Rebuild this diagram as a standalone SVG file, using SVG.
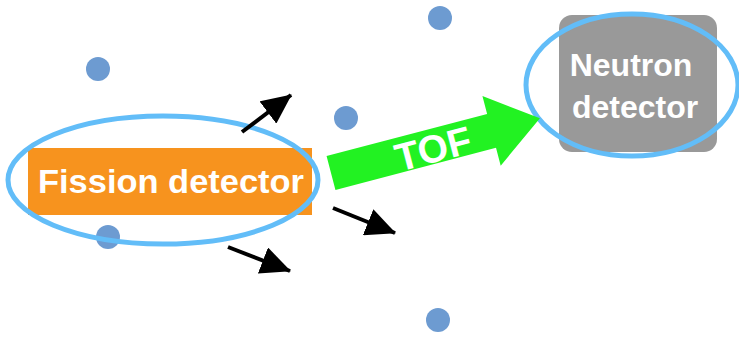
<svg xmlns="http://www.w3.org/2000/svg" width="739" height="340" viewBox="0 0 739 340">
<defs>
<style>
.lbl{font-family:"Liberation Sans",Arial,sans-serif;font-weight:bold;fill:#ffffff;text-anchor:middle}
.dot{fill:#6d9bd1}
.ring{fill:none;stroke:#62bdf8;stroke-width:5}
.ray{stroke:#000;stroke-width:4;fill:none;marker-end:url(#ah)}
</style>
<marker id="ah" markerUnits="userSpaceOnUse" markerWidth="30" markerHeight="28" viewBox="0 0 30 28" refX="29" refY="14" orient="auto">
<path d="M0,0 L30,14 L0,28 z" fill="#000"/>
</marker>
</defs>
<rect width="739" height="340" fill="#ffffff"/>
<g id="particles">
<circle class="dot" cx="98" cy="69" r="12"/>
<circle class="dot" cx="440" cy="18" r="12"/>
<circle class="dot" cx="346" cy="118" r="12"/>
<circle class="dot" cx="108" cy="237" r="12"/>
<circle class="dot" cx="438" cy="320" r="12"/>
</g>
<g id="fission-detector">
<rect x="28" y="148" width="284" height="67" fill="#f7931e"/>
<text class="lbl" x="171" y="193" font-size="33" textLength="266" lengthAdjust="spacingAndGlyphs">Fission detector</text>
<ellipse class="ring" cx="163" cy="180" rx="155" ry="64"/>
</g>
<g id="neutron-detector">
<rect x="559" y="15" width="158" height="137" rx="13" fill="#999999"/>
<text class="lbl" x="631" y="76" font-size="32">Neutron</text>
<text class="lbl" x="635" y="118" font-size="32">detector</text>
<ellipse class="ring" cx="632" cy="85" rx="106" ry="71"/>
</g>
<g id="connectors">
<g id="tof-arrow" transform="translate(331,173) rotate(-14.7)">
<polygon points="0,-17.5 166,-17.5 166,-36 216,0 166,36 166,17.5 0,17.5" fill="#22f222"/>
<text class="lbl" x="105" y="16" font-size="39">TOF</text>
</g>
<line class="ray" x1="242" y1="132" x2="291" y2="95"/>
<line class="ray" x1="333" y1="208" x2="395" y2="233"/>
<line class="ray" x1="228" y1="247" x2="290" y2="271"/>
</g>
</svg>
